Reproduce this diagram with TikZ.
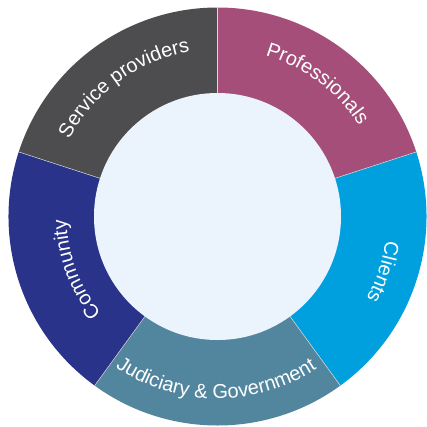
\documentclass[tikz,border=0pt]{standalone}
\usepackage{fontspec}
\newfontfamily\labelfont{Liberation Sans}
\usetikzlibrary{decorations.text}
\definecolor{provcol}{HTML}{4D4D4F}
\definecolor{profcol}{HTML}{A54E79}
\definecolor{clientcol}{HTML}{00A0DF}
\definecolor{judcol}{HTML}{52869E}
\definecolor{commcol}{HTML}{283389}
\definecolor{corecol}{HTML}{EBF4FC}
\begin{document}
\begin{tikzpicture}[x=1pt,y=1pt,
  seg/.style={draw=white!70!gray, line width=0.5pt},
  ringlabel/.style={decorate, decoration={text along path, text align=center,
    text color=white, text={|\labelfont\fontsize{20}{22}\selectfont|#1}}}]
\useasboundingbox (-217.5,-209.5) rectangle (209.5,216.5);
\def\Rout{209}
\def\Rin{123.5}
% five ring sectors of 72 degrees each
\fill[provcol]   (0,0) -- (162:\Rout) arc[start angle=162, end angle=90,   radius=\Rout] -- cycle;
\fill[profcol]   (0,0) -- (90:\Rout)  arc[start angle=90,  end angle=18,   radius=\Rout] -- cycle;
\fill[clientcol] (0,0) -- (18:\Rout)  arc[start angle=18,  end angle=-54,  radius=\Rout] -- cycle;
\fill[judcol]    (0,0) -- (-54:\Rout) arc[start angle=-54, end angle=-126, radius=\Rout] -- cycle;
\fill[commcol]   (0,0) -- (234:\Rout) arc[start angle=234, end angle=162,  radius=\Rout] -- cycle;
% thin seams between sectors
\foreach \a in {90,18,-54,-126,162}
  \draw[seg] (0,0) -- (\a:\Rout);
% light core
\fill[corecol] (0,0) circle[radius=\Rin];
% curved labels
\path[ringlabel={Service providers}] (164:167) arc[start angle=164, end angle=88, radius=167];
\path[ringlabel={Professionals}]     (91:168)  arc[start angle=91,  end angle=15, radius=168];
\path[ringlabel={Clients}]           (18:170)  arc[start angle=18,  end angle=-55, radius=170];
\path[ringlabel={Judiciary {\&} Government}] (-128:182) arc[start angle=-128, end angle=-53, radius=182];
\path[ringlabel={Community}]         (235:151) arc[start angle=235, end angle=166, radius=151];
\end{tikzpicture}
\end{document}
